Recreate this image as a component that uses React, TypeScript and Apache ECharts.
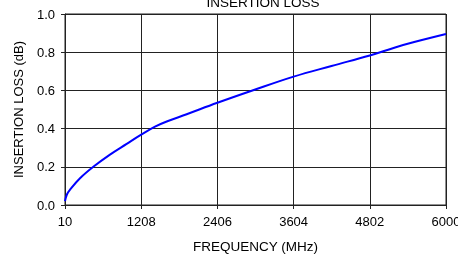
import React, { useEffect, useRef } from "react";
import * as echarts from "echarts";

const frequencies = [10, 40, 89, 246, 455, 717, 980, 1208, 1425, 1609, 1923, 2406, 2945, 3604, 4200, 4802, 5200, 5500, 6000];
const lossDb = [0.02, 0.055, 0.08, 0.14, 0.2, 0.264, 0.32, 0.368, 0.41, 0.437, 0.475, 0.535, 0.598, 0.672, 0.728, 0.783, 0.825, 0.853, 0.895];
const xStart = 10;
const xEnd = 6000;
const xStep = 1198;

export default function App() {
  const ref = useRef<HTMLDivElement>(null);
  useEffect(() => {
    if (!ref.current) return;
    const chart = echarts.init(ref.current, undefined, { renderer: "svg" });
    const font = "'Liberation Sans', Arial, sans-serif";
    const lineColor = "#222";
    chart.setOption({
      animation: false,
      title: {
        text: "INSERTION LOSS",
        left: 258,
        textAlign: "center",
        top: -10,
        textStyle: { fontFamily: font, fontSize: 13.5, fontWeight: "normal", color: "#000" },
      },
      grid: {
        left: 65,
        right: 12,
        top: 14,
        bottom: 49,
        show: true,
        borderColor: lineColor,
        borderWidth: 1,
        containLabel: false,
        outerBoundsMode: "none",
      },
      xAxis: {
        type: "value",
        min: 0,
        max: xEnd - xStart,
        interval: xStep,
        name: "FREQUENCY (MHz)",
        nameLocation: "middle",
        nameGap: 34,
        nameTextStyle: { fontFamily: font, fontSize: 13.5, color: "#000" },
        axisLine: { lineStyle: { color: lineColor } },
        axisTick: { show: true, length: 4, lineStyle: { color: lineColor } },
        axisLabel: {
          margin: 10,
          fontFamily: font,
          fontSize: 13,
          color: "#000",
          showMaxLabel: true,
          formatter: (v: number) => String(v + xStart),
        },
        splitLine: { show: true, lineStyle: { color: lineColor, width: 1 } },
      },
      yAxis: {
        type: "value",
        min: 0,
        max: 1,
        interval: 0.2,
        name: "INSERTION LOSS (dB)",
        nameLocation: "middle",
        nameGap: 40,
        nameTextStyle: { fontFamily: font, fontSize: 13, color: "#000" },
        axisLine: { show: true, lineStyle: { color: lineColor } },
        axisTick: { show: true, length: 4, lineStyle: { color: lineColor } },
        axisLabel: {
          margin: 10,
          fontFamily: font,
          fontSize: 13,
          color: "#000",
          formatter: (v: number) => v.toFixed(1),
        },
        splitLine: { show: true, lineStyle: { color: lineColor, width: 1 } },
      },
      series: [
        {
          type: "line",
          data: frequencies.map((f, i) => [f - xStart, lossDb[i]]),
          smooth: 0.4,
          showSymbol: false,
          lineStyle: { color: "#0000ff", width: 2 },
        },
      ],
    });
    return () => chart.dispose();
  }, []);
  return <div ref={ref} style={{ position: "fixed", left: 0, top: 0, width: 458, height: 254 }} />;
}
